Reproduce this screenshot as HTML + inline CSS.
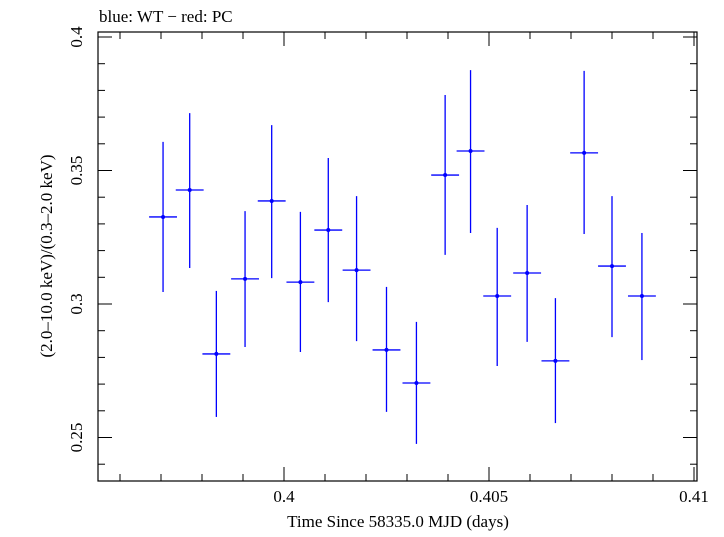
<!DOCTYPE html>
<html><head><meta charset="utf-8"><style>
body{margin:0;background:#fff}
text{font-family:"Liberation Serif",serif;fill:#000}
</style></head><body>
<svg id="chart" width="724" height="532" xmlns="http://www.w3.org/2000/svg">
<text x="99" y="22" font-size="17">blue: WT − red: PC</text>
<rect x="98" y="32" width="599" height="449" fill="none" stroke="#000" stroke-width="1.2"/>
<g id="ticks"></g><g id="series"></g>
<text x="398" y="527" font-size="17" text-anchor="middle">Time Since 58335.0 MJD (days)</text>
<text transform="translate(52,256) rotate(-90)" font-size="17" text-anchor="middle">(2.0–10.0 keV)/(0.3–2.0 keV)</text>
</svg>
<script>
const times=[0.39705,0.39770,0.39835,0.39905,0.39970,0.40040,0.40108,0.40177,0.40250,0.40323,0.40393,0.40455,0.40520,0.40593,0.40662,0.40732,0.40800,0.40873];
const ratios=[0.3326,0.3427,0.2813,0.3094,0.3386,0.3082,0.3277,0.3127,0.2828,0.2704,0.3483,0.3573,0.3030,0.3116,0.2787,0.3566,0.3142,0.3030];
const errHi=[0.3607,0.3715,0.3049,0.3348,0.3670,0.3345,0.3547,0.3404,0.3064,0.2933,0.3783,0.3876,0.3285,0.3371,0.3022,0.3873,0.3404,0.3266];
const errLo=[0.3045,0.3135,0.2577,0.2839,0.3097,0.2820,0.3007,0.2861,0.2596,0.2476,0.3184,0.3266,0.2768,0.2858,0.2554,0.3262,0.2876,0.2790];
const halfWidth=0.00034;
const xTicks=[0.4,0.405,0.41];
const xTickLabels=["0.4","0.405","0.41"];
const yTicks=[0.25,0.3,0.35,0.4];
const yTickLabels=["0.25","0.3","0.35","0.4"];
const X=v=>284+(v-0.4)*41000;
const Y=v=>37+(0.4-v)*2670;
const NS="http://www.w3.org/2000/svg";
function mk(t,a,p){const e=document.createElementNS(NS,t);for(const k in a)e.setAttribute(k,a[k]);p.appendChild(e);return e;}
const tk=document.getElementById('ticks'),sr=document.getElementById('series');
for(let v=0.396;v<=0.4105;v+=0.001){const x=X(v);if(x<99||x>696)continue;
 const maj=Math.abs(Math.round(v*200)/200-v)<1e-7;const L=maj?14:7;
 const a=mk('line',{x1:x,x2:x,y1:481,y2:481-L,stroke:'#000'},tk);
 const b=mk('line',{x1:x,x2:x,y1:32,y2:32+L,stroke:'#000'},tk);}
for(let v=0.24;v<=0.405;v+=0.01){const y=Y(v);if(y<33||y>480)continue;
 const maj=Math.abs(Math.round(v*20)/20-v)<1e-7;const L=maj?14:7;
 const a=mk('line',{x1:98,x2:98+L,y1:y,y2:y,stroke:'#000'},tk);
 const b=mk('line',{x1:697,x2:697-L,y1:y,y2:y,stroke:'#000'},tk);}
xTicks.forEach((v,i)=>{const t=mk('text',{x:X(v),y:502,'font-size':17,'text-anchor':'middle'},tk);t.textContent=xTickLabels[i];
 });
yTicks.forEach((v,i)=>{const t=mk('text',{transform:`translate(82,${Y(v)}) rotate(-90)`,'font-size':17,'text-anchor':'middle'},tk);t.textContent=yTickLabels[i];
 });
times.forEach((t,i)=>{const g=mk('g',{},sr);
 
 
 mk('line',{x1:X(t-halfWidth),x2:X(t+halfWidth),y1:Y(ratios[i]),y2:Y(ratios[i]),stroke:'#0000ff','stroke-width':1.3},g);
 mk('line',{x1:X(t),x2:X(t),y1:Y(errHi[i]),y2:Y(errLo[i]),stroke:'#0000ff','stroke-width':1.3},g);
 mk('circle',{cx:X(t),cy:Y(ratios[i]),r:2,fill:'#0000ff'},g);});
</script>
</body></html>
